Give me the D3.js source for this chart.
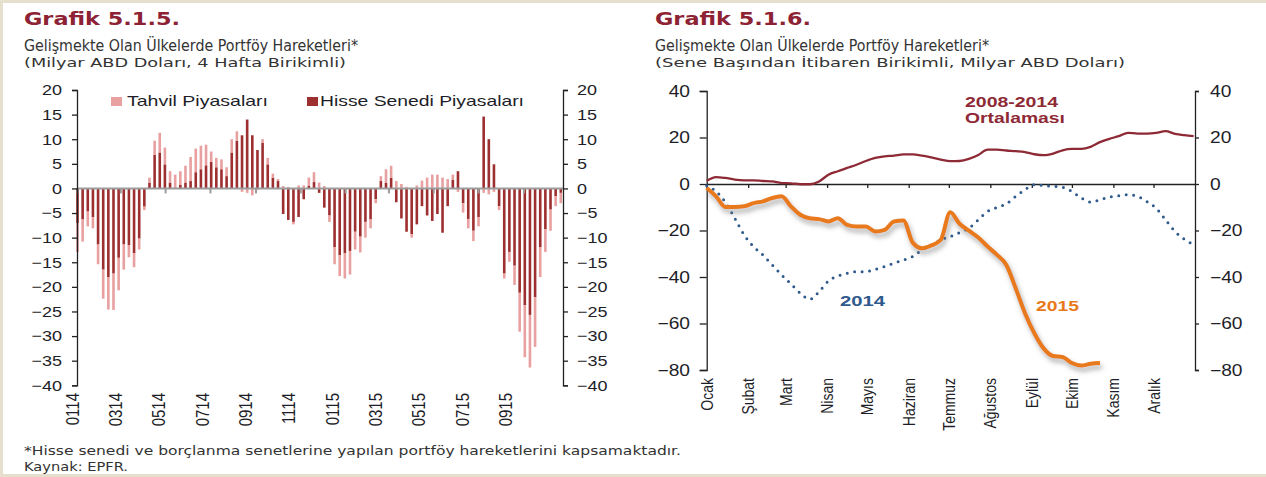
<!DOCTYPE html>
<html>
<head>
<meta charset="utf-8" />
<script src="https://d3js.org/d3.v7.min.js"></script>
<style>
  body { margin: 0; background: #fff; }
  text { font-family: "Liberation Sans", Arial, sans-serif; fill: #1e1e28; }
  .axis path, .axis line { stroke: #222; stroke-width: 1.3px; }
  .axis text { fill: #1e1e28; }
</style>
</head>
<body>
<svg id="chart" width="1266" height="477"></svg>
<script>
// --- Grafik 5.1.5 : weekly (4 week cumulative) flows, bn USD
var hisse = [-7.1,-6.3,-4.7,-5.8,-11.4,-16.5,-18.0,-17.3,-14.1,-11.4,
  -11.5,-13.2,-10.2,-3.7,1.2,6.8,7.3,4.9,1.2,0.2,
  0.7,1.2,1.5,3.3,3.9,4.7,5.4,4.3,3.9,2.5,
  7.3,9.7,10.8,14.0,10.8,7.8,9.3,4.9,2.2,1.5,
  -5.2,-6.4,-6.8,-5.8,-2.2,0.5,1.3,-0.9,-3.9,-5.5,
  -11.9,-13.6,-13.2,-12.7,-8.8,-9.8,-6.8,-6.3,-2.2,1.5,
  1.2,2.2,-2.8,-6.1,-8.8,-9.3,-7.3,-3.6,-5.5,-6.6,
  -5.2,-9.0,-3.6,1.8,3.5,-3.0,-6.2,-8.6,-5.8,14.6,
  10.0,4.9,-3.6,-17.3,-12.9,-15.7,-21.2,-23.7,-25.7,-22.1,
  -11.9,-8.3,-4.3,-1.6,-0.9];
var tahvil = [-5.8,-4.5,-3.0,-2.3,-4.0,-5.9,-6.6,-7.4,-6.6,-5.1,
  -2.5,-2.8,-2.2,-0.7,1.0,2.9,4.0,3.4,2.3,2.6,
  2.8,3.4,4.9,4.8,4.8,4.2,2.1,1.9,2.0,1.8,
  2.7,1.9,-0.7,-0.9,-1.4,-0.3,0.7,1.3,0.8,0.4,
  0.5,0.3,-0.5,0.6,0.6,1.7,2.0,1.2,0.5,-1.3,
  -3.5,-4.2,-5.1,-4.8,-3.6,-3.2,-3.2,-1.8,-0.8,1.0,
  2.7,2.4,1.5,0.9,0.3,-0.7,0.6,1.6,2.2,2.8,
  2.8,2.2,1.9,1.0,-0.7,-1.9,-1.9,-2.1,-1.9,-0.9,
  -1.2,-0.7,-0.8,-1.0,-2.0,-3.9,-7.9,-10.6,-10.7,-10.1,
  -6.1,-4.6,-4.3,-2.0,-2.1];
var leftTickLabels = ["0114","0314","0514","0714","0914","1114","0115","0315","0515","0715","0915"];
var leftTickDates = ["2014-01-01","2014-03-01","2014-05-01","2014-07-01","2014-09-01","2014-11-01",
  "2015-01-01","2015-03-01","2015-05-01","2015-07-01","2015-09-01"];
var leftYTicks = [-40,-35,-30,-25,-20,-15,-10,-5,0,5,10,15,20];

// --- Grafik 5.1.6 : year-to-date cumulative, weekly, bn USD
var monthNames = ["Ocak","Şubat","Mart","Nisan","Mayıs","Haziran","Temmuz","Ağustos","Eylül","Ekim","Kasım","Aralık"];
var avg0814 = [1.4,3.0,2.6,1.9,1.6,1.6,1.3,1.1,0.4,0.3,
  -0.1,-0.1,1.1,4.0,5.5,6.9,8.3,9.9,11.2,11.9,
  12.2,12.7,12.7,12.2,11.4,10.5,9.8,9.9,10.8,12.5,
  14.8,14.8,14.4,14.1,13.7,12.8,12.4,13.1,14.5,15.1,
  15.1,16.0,18.0,19.4,20.6,22.0,21.7,21.7,22.0,22.7,
  21.6,21.0,20.6];
var flows2014 = [-0.7,-3.2,-7.9,-14.7,-21.9,-26.9,-30.5,-34.8,-39.1,-43.0,
  -47.0,-49.6,-46.3,-41.7,-39.6,-38.4,-37.7,-37.7,-36.7,-35.5,
  -34.1,-32.7,-31.2,-28.3,-26.2,-24.0,-22.6,-20.9,-19.0,-15.4,
  -11.8,-10.1,-8.5,-5.3,-2.4,-0.3,-0.7,-1.0,-1.4,-3.2,
  -6.0,-7.8,-6.8,-5.6,-5.0,-4.6,-5.3,-7.5,-10.4,-15.4,
  -20.4,-23.7,-26.2];
var flows2015 = [-1.7,-5.3,-9.9,-9.9,-9.6,-8.2,-7.5,-6.0,-5.3,-9.6,
  -13.2,-14.7,-15.1,-16.1,-14.7,-17.6,-18.3,-18.3,-20.4,-19.7,
  -16.1,-15.7,-25.2,-27.6,-26.4,-24.0,-12.2,-17.1,-20.1,-23.0,
  -26.9,-30.5,-34.8,-44.9,-55.7,-64.3,-70.8,-74.0,-74.4,-77.0,
  -78.1,-77.3,-77.0];
var rightYTicks = [-80,-60,-40,-20,0,20,40];

var svg = d3.select("#chart");
var parse = d3.timeParse("%Y-%m-%d");

// frame
svg.append("rect").attr("x", 1.5).attr("y", 1.5).attr("width", 1280).attr("height", 474)
  .attr("fill", "#fff").attr("stroke", "#e6dfcd").attr("stroke-width", 3);

var defs = svg.append("defs");
defs.append("filter").attr("id", "shadow").attr("x", "-10%").attr("y", "-10%").attr("width", "130%").attr("height", "130%")
  .append("feDropShadow").attr("dx", 2).attr("dy", 4).attr("stdDeviation", 2.5)
  .attr("flood-color", "#777").attr("flood-opacity", 0.6);

function label(x, y, s, size, opt) {
  opt = opt || {};
  var t = svg.append("text").attr("x", x).attr("y", y).attr("font-size", size).text(s);
  if (opt.w) t.attr("textLength", opt.w).attr("lengthAdjust", "spacingAndGlyphs");
  if (opt.bold) t.attr("font-weight", "bold");
  if (opt.fill) t.style("fill", opt.fill);
  if (opt.family) t.style("font-family", opt.family);
  return t;
}

// titles
var titleRed = "#8c2233";
label(24, 25, "Grafik 5.1.5.", 18, {w: 156, bold: true, fill: titleRed, family: "DejaVu Sans"});
label(24, 51, "Gelişmekte Olan Ülkelerde Portföy Hareketleri*", 15, {w: 334, fill: "#333", family: "DejaVu Sans"});
label(24, 67, "(Milyar ABD Doları, 4 Hafta Birikimli)", 13, {w: 322, fill: "#333", family: "DejaVu Sans"});
label(655, 25, "Grafik 5.1.6.", 18, {w: 156, bold: true, fill: titleRed, family: "DejaVu Sans"});
label(655, 51, "Gelişmekte Olan Ülkelerde Portföy Hareketleri*", 15, {w: 334, fill: "#333", family: "DejaVu Sans"});
label(655, 67, "(Sene Başından İtibaren Birikimli, Milyar ABD Doları)", 13, {w: 470, fill: "#333", family: "DejaVu Sans"});
label(24, 455, "*Hisse senedi ve borçlanma senetlerine yapılan portföy hareketlerini kapsamaktadır.", 12, {w: 657, fill: "#333", family: "DejaVu Sans"});
label(24, 471, "Kaynak: EPFR.", 12, {w: 104, fill: "#333", family: "DejaVu Sans"});

// ================= left chart =================
var lightCol = "#e8a0a0", darkCol = "#9e2f31";
var start = parse("2014-01-01");
var xL = d3.scaleTime().domain([start, parse("2015-10-24")]).range([77.5, 563]);
var yL = d3.scaleLinear().domain([-40, 20]).range([385.3, 90]);
var weeks = hisse.map(function(d, i) {
  return {date: d3.timeDay.offset(start, i * 7), h: d, t: tahvil[i]};
});
var barW = 2.6;

var gl = svg.append("g");
// hisse (dark) at the base
gl.selectAll(".dark").data(weeks).enter().append("rect")
  .attr("class", "dark")
  .attr("x", function(d) { return xL(d.date) - barW / 2; })
  .attr("width", barW)
  .attr("y", function(d) { return yL(Math.max(0, d.h)); })
  .attr("height", function(d) { return Math.abs(yL(d.h) - yL(0)); })
  .attr("fill", darkCol);
// tahvil (light) stacked when same sign
gl.selectAll(".light").data(weeks).enter().append("rect")
  .attr("class", "light")
  .attr("x", function(d) { return xL(d.date) - barW / 2; })
  .attr("width", barW)
  .attr("y", function(d) {
    var base = (d.h * d.t >= 0) ? d.h : 0;
    return yL(Math.max(base, base + d.t));
  })
  .attr("height", function(d) { return Math.abs(yL(d.t) - yL(0)); })
  .attr("fill", lightCol);

// zero line and month ticks
gl.append("line").attr("x1", 77).attr("x2", 563).attr("y1", yL(0)).attr("y2", yL(0))
  .attr("stroke", "#9b9b9b").attr("stroke-width", 2);
gl.selectAll(".mt").data(leftTickDates).enter().append("line")
  .attr("x1", function(d) { return xL(parse(d)); })
  .attr("x2", function(d) { return xL(parse(d)); })
  .attr("y1", yL(0)).attr("y2", yL(0) + 5)
  .attr("stroke", "#9b9b9b").attr("stroke-width", 2);

// y axes
var axL = svg.append("g").attr("class", "axis").attr("transform", "translate(77,0)")
  .call(d3.axisLeft(yL).tickValues(leftYTicks).tickSize(5).tickPadding(7.5));
var axR = svg.append("g").attr("class", "axis").attr("transform", "translate(563,0)")
  .call(d3.axisRight(yL).tickValues(leftYTicks).tickSize(5).tickPadding(6.7));
[axL, axR].forEach(function(a) {
  a.selectAll("text").attr("font-size", 15).attr("transform", "scale(1.2,1)")
    .style("font-family", "'Liberation Sans', Arial, sans-serif");
});

// x labels (category labels every 59 days, drifting from the month ticks as in the source)
svg.selectAll(".xl").data(leftTickLabels).enter().append("text")
  .attr("font-size", 15)
  .attr("text-anchor", "end")
  .attr("transform", function(d, i) {
    var x = xL(d3.timeDay.offset(start, 59 * i - 7)) + 6.4;
    return "translate(" + x + ",393) scale(1.2,1) rotate(-90)";
  })
  .text(function(d) { return d; });

// legend
svg.append("rect").attr("x", 111).attr("y", 97).attr("width", 11).attr("height", 9).attr("fill", lightCol);
label(127, 106, "Tahvil Piyasaları", 15, {w: 141});
svg.append("rect").attr("x", 307).attr("y", 97).attr("width", 11).attr("height", 9).attr("fill", darkCol);
label(320, 106, "Hisse Senedi Piyasaları", 15, {w: 204});

// ================= right chart =================
var yr0 = parse("2015-01-01");
var xR = d3.scaleTime().domain([yr0, parse("2016-01-01")]).range([706.7, 1195]);
var yR = d3.scaleLinear().domain([-80, 40]).range([370, 91]);
function wk(i) { return d3.timeDay.offset(yr0, i * 7); }

var axRL = svg.append("g").attr("class", "axis").attr("transform", "translate(706.7,0)")
  .call(d3.axisLeft(yR).tickValues(rightYTicks).tickSize(7).tickPadding(6.9));
var axRR = svg.append("g").attr("class", "axis").attr("transform", "translate(1195,0)")
  .call(d3.axisRight(yR).tickValues(rightYTicks).tickSize(4).tickPadding(8.5));
[axRL, axRR].forEach(function(a) {
  a.selectAll("text").attr("font-size", 16).attr("transform", "scale(1.2,1)")
    .style("font-family", "'Liberation Sans', Arial, sans-serif");
});

// zero axis with month ticks
var months = d3.timeMonth.range(yr0, parse("2016-01-01"));
svg.append("g").attr("class", "axis").attr("transform", "translate(0," + yR(0) + ")")
  .call(d3.axisBottom(xR).tickValues(months).tickSize(4).tickSizeOuter(0).tickFormat(""));

svg.selectAll(".ml").data(monthNames).enter().append("text")
  .attr("font-size", 14)
  .attr("text-anchor", "end")
  .attr("transform", function(d, i) {
    return "translate(" + (xR(months[i]) + 6) + ",378) scale(1.2,1) rotate(-90)";
  })
  .text(function(d) { return d; });

var line = d3.line()
  .x(function(d, i) { return xR(wk(i)); })
  .y(function(d) { return yR(d); })
  .curve(d3.curveMonotoneX);

svg.append("path").datum(avg0814).attr("d", line)
  .attr("fill", "none").attr("stroke", "#8e2a36").attr("stroke-width", 2.3);
svg.append("path").datum(flows2014).attr("d", line)
  .attr("fill", "none").attr("stroke", "#2f5a8c").attr("stroke-width", 3)
  .attr("stroke-linecap", "round").attr("stroke-dasharray", "0 7.5");
svg.append("path").datum(flows2015).attr("d", line)
  .attr("fill", "none").attr("stroke", "#e8791b").attr("stroke-width", 4)
  .attr("stroke-linejoin", "round").attr("filter", "url(#shadow)");

// series labels
label(965, 107, "2008-2014", 15, {w: 93, bold: true, fill: "#8e2a36"});
label(965, 123, "Ortalaması", 15, {w: 100, bold: true, fill: "#8e2a36"});
label(840, 306, "2014", 15, {w: 45, bold: true, fill: "#2f5a8c"});
label(1036, 311, "2015", 15, {w: 43, bold: true, fill: "#e8791b"});
</script>
</body>
</html>
